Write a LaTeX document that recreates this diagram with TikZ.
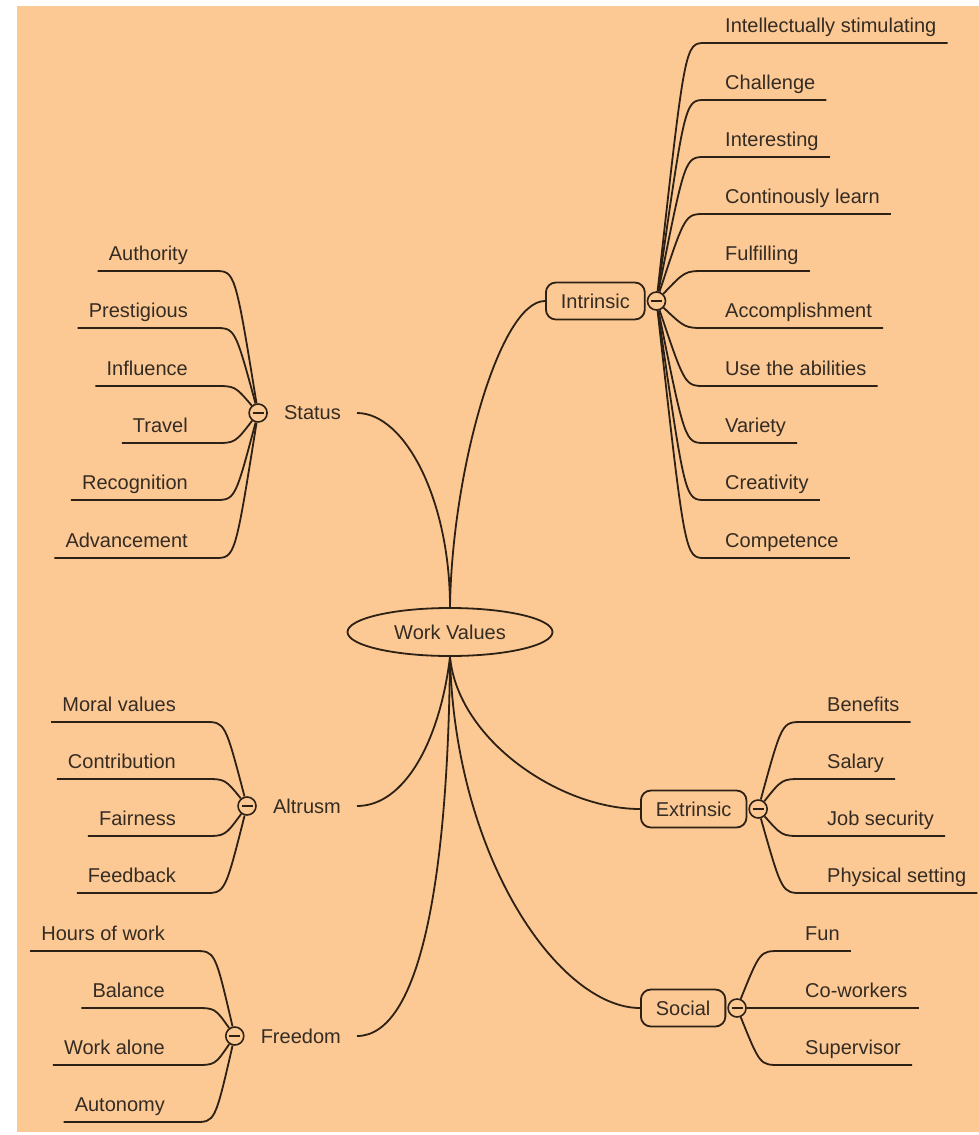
\documentclass[tikz,border=0pt]{standalone}
\usepackage{fontspec}
\setmainfont{Liberation Sans}
\usetikzlibrary{positioning}
\usetikzlibrary{calc}
\usetikzlibrary{shapes.geometric}
\definecolor{peach}{RGB}{252,201,148}
\definecolor{ink}{RGB}{45,32,20}
\definecolor{textink}{RGB}{52,43,35}
\tikzset{
    % Every curve and underline of the map
    branch/.style={draw=ink, line width=1.8pt},
%
    % The ellipse in the middle
    root/.style={
        draw=ink, line width=1.8pt, ellipse, inner sep=0,
        minimum width=205pt, minimum height=48pt},
%
    % Topics on the right are boxed, those on the left are not
    boxed topic/.style={
        draw=ink, line width=1.8pt, rounded corners=10pt,
        inner xsep=15pt, minimum height=37pt},
    plain topic/.style={inner xsep=16pt, minimum height=37pt},
%
    % The little collapse button with its minus sign
    fold/.style={
        draw=ink, line width=1.6pt, circle, inner sep=0,
        minimum size=18pt, fill=peach,
        path picture={\draw[ink, line width=1.6pt]
            ([xshift=-5.5pt]path picture bounding box.center) --
            ([xshift=5.5pt]path picture bounding box.center);}},
%
    % A leaf sits on its own underline
    leaf/.style={inner xsep=0, inner ysep=5pt, text height=14pt, text depth=5pt}}

\begin{document}
\begin{tikzpicture}[x=1pt, y=-1pt, text=textink,
    font=\fontsize{20}{24}\selectfont]

\useasboundingbox (0,0) rectangle (979,1135);
\fill[peach] (17,6) rectangle (979,1132);

% The centre of the map
\node[root] (work values) at (450,632) {Work Values};

% Topics
\node[boxed topic, anchor=west] (intrinsic) at (545,301) {Intrinsic};
\node[fold, right=1pt of intrinsic] (intrinsic fold) {};

\node[boxed topic, anchor=west] (extrinsic) at (640,809) {Extrinsic};
\node[fold, right=1pt of extrinsic] (extrinsic fold) {};

\node[boxed topic, anchor=west] (social) at (640,1008) {Social};
\node[fold, right=1pt of social] (social fold) {};

\node[plain topic, anchor=east] (status) at (357,413) {Status};
\node[fold, left=0pt of status] (status fold) {};

\node[plain topic, anchor=east] (altrusm) at (357,806) {Altrusm};
\node[fold, left=0pt of altrusm] (altrusm fold) {};

\node[plain topic, anchor=east] (freedom) at (357,1036) {Freedom};
\node[fold, left=0pt of freedom] (freedom fold) {};

\draw[branch] (work values.north) .. controls (452,470) and (500,301) .. (intrinsic.west);
\draw[branch] (status.east) .. controls (405,413) and (450,500) .. (work values.north);
\draw[branch] (work values.south) .. controls (440,740) and (405,806) .. (altrusm.east);
\draw[branch] (work values.south) .. controls (448,880) and (420,1036) .. (freedom.east);
\draw[branch] (work values.south) .. controls (458,740) and (560,809) .. (extrinsic.west);
\draw[branch] (work values.south) .. controls (455,860) and (560,1008) .. (social.west);

% Intrinsic leaves
\path[every node/.style={leaf, anchor=south west}]
    node (stimulating) at (725,43) {Intellectually stimulating}
    node (challenge) at (725,100) {Challenge}
    node (interesting) at (725,157) {Interesting}
    node (learn) at (725,214) {Continously learn}
    node (fulfilling) at (725,271) {Fulfilling}
    node (accomplishment) at (725,328) {Accomplishment}
    node (abilities) at (725,386) {Use the abilities}
    node (variety) at (725,443) {Variety}
    node (creativity) at (725,500) {Creativity}
    node (competence) at (725,558) {Competence};

\draw[branch] (intrinsic fold) .. controls (685,43) .. (705,43) -- ([xshift=11pt]stimulating.south east);
\draw[branch] (intrinsic fold) .. controls (685,100) .. (705,100) -- ([xshift=11pt]challenge.south east);
\draw[branch] (intrinsic fold) .. controls (685,157) .. (705,157) -- ([xshift=11pt]interesting.south east);
\draw[branch] (intrinsic fold) .. controls (685,214) .. (705,214) -- ([xshift=11pt]learn.south east);
\draw[branch] (intrinsic fold) .. controls (685,271) .. (705,271) -- ([xshift=11pt]fulfilling.south east);
\draw[branch] (intrinsic fold) .. controls (685,328) .. (705,328) -- ([xshift=11pt]accomplishment.south east);
\draw[branch] (intrinsic fold) .. controls (685,386) .. (705,386) -- ([xshift=11pt]abilities.south east);
\draw[branch] (intrinsic fold) .. controls (685,443) .. (705,443) -- ([xshift=11pt]variety.south east);
\draw[branch] (intrinsic fold) .. controls (685,500) .. (705,500) -- ([xshift=11pt]creativity.south east);
\draw[branch] (intrinsic fold) .. controls (685,558) .. (705,558) -- ([xshift=11pt]competence.south east);

% Extrinsic leaves
\path[every node/.style={leaf, anchor=south west}]
    node (benefits) at (827,722) {Benefits}
    node (salary) at (827,779) {Salary}
    node (job security) at (827,836) {Job security}
    node (physical) at (827,893) {Physical setting};

\draw[branch] (extrinsic fold) .. controls (782,722) .. (802,722) -- ([xshift=11pt]benefits.south east);
\draw[branch] (extrinsic fold) .. controls (782,779) .. (802,779) -- ([xshift=11pt]salary.south east);
\draw[branch] (extrinsic fold) .. controls (782,836) .. (802,836) -- ([xshift=11pt]job security.south east);
\draw[branch] (extrinsic fold) .. controls (782,893) .. (802,893) -- ([xshift=11pt]physical.south east);

% Social leaves
\path[every node/.style={leaf, anchor=south west}]
    node (fun) at (805,951) {Fun}
    node (co-workers) at (805,1008) {Co-workers}
    node (supervisor) at (805,1065) {Supervisor};

\draw[branch] (social fold) .. controls (760,951) .. (780,951) -- ([xshift=11pt]fun.south east);
\draw[branch] (social fold) -- ([xshift=11pt]co-workers.south east);
\draw[branch] (social fold) .. controls (760,1065) .. (780,1065) -- ([xshift=11pt]supervisor.south east);

% Status leaves
\path[every node/.style={leaf, anchor=south east}]
    node (authority) at (188,271) {Authority}
    node (prestigious) at (188,328) {Prestigious}
    node (influence) at (188,386) {Influence}
    node (travel) at (188,443) {Travel}
    node (recognition) at (188,500) {Recognition}
    node (advancement) at (188,558) {Advancement};

\draw[branch] (status fold) .. controls (235,271) .. (215,271) -- ([xshift=-11pt]authority.south west);
\draw[branch] (status fold) .. controls (235,328) .. (215,328) -- ([xshift=-11pt]prestigious.south west);
\draw[branch] (status fold) .. controls (235,386) .. (215,386) -- ([xshift=-11pt]influence.south west);
\draw[branch] (status fold) .. controls (235,443) .. (215,443) -- ([xshift=-11pt]travel.south west);
\draw[branch] (status fold) .. controls (235,500) .. (215,500) -- ([xshift=-11pt]recognition.south west);
\draw[branch] (status fold) .. controls (235,558) .. (215,558) -- ([xshift=-11pt]advancement.south west);

% Altrusm leaves
\path[every node/.style={leaf, anchor=south east}]
    node (moral) at (176,722) {Moral values}
    node (contribution) at (176,779) {Contribution}
    node (fairness) at (176,836) {Fairness}
    node (feedback) at (176,893) {Feedback};

\draw[branch] (altrusm fold) .. controls (225,722) .. (205,722) -- ([xshift=-11pt]moral.south west);
\draw[branch] (altrusm fold) .. controls (225,779) .. (205,779) -- ([xshift=-11pt]contribution.south west);
\draw[branch] (altrusm fold) .. controls (225,836) .. (205,836) -- ([xshift=-11pt]fairness.south west);
\draw[branch] (altrusm fold) .. controls (225,893) .. (205,893) -- ([xshift=-11pt]feedback.south west);

% Freedom leaves
\path[every node/.style={leaf, anchor=south east}]
    node (hours) at (165,951) {Hours of work}
    node (balance) at (165,1008) {Balance}
    node (alone) at (165,1065) {Work alone}
    node (autonomy) at (165,1122) {Autonomy};

\draw[branch] (freedom fold) .. controls (215,951) .. (195,951) -- ([xshift=-11pt]hours.south west);
\draw[branch] (freedom fold) .. controls (215,1008) .. (195,1008) -- ([xshift=-11pt]balance.south west);
\draw[branch] (freedom fold) .. controls (215,1065) .. (195,1065) -- ([xshift=-11pt]alone.south west);
\draw[branch] (freedom fold) .. controls (215,1122) .. (195,1122) -- ([xshift=-11pt]autonomy.south west);

\end{tikzpicture}
\end{document}
